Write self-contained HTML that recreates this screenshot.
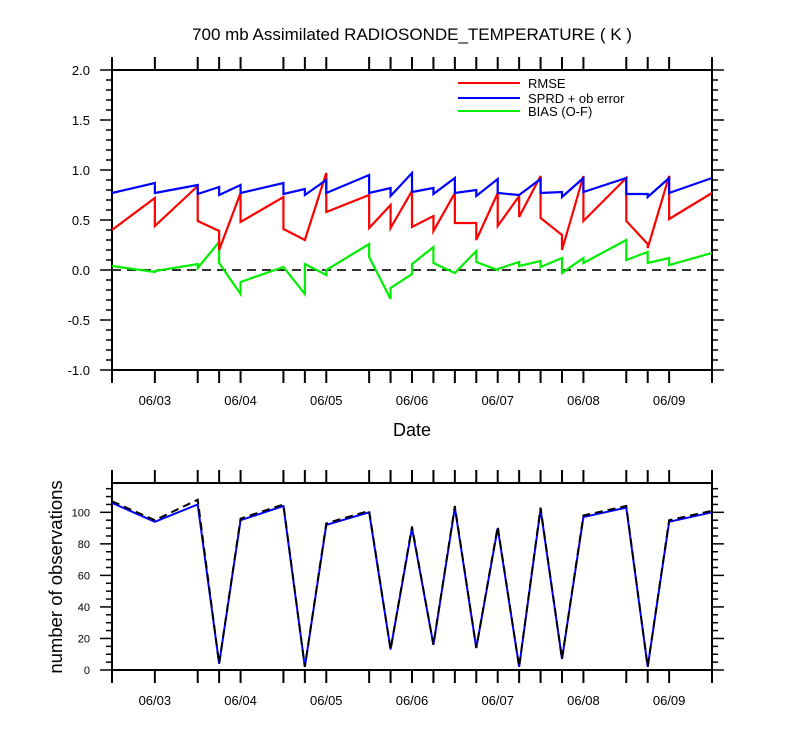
<!DOCTYPE html>
<html><head><meta charset="utf-8"><style>
body{margin:0;background:#fff}
svg{display:block;font-family:"Liberation Sans",sans-serif}
</style></head><body>
<svg id="c" width="800" height="750" viewBox="0 0 800 750"></svg>
<script>
const hours=[0,12,24,30,36,48,54,60,72,78,84,90,96,102,108,114,120,126,132,144,150,156,168];
const dateLabels=["06/03","06/04","06/05","06/06","06/07","06/08","06/09"];
const dateHours=[12,36,60,84,108,132,156];
const rmseArrive=[null,0.72,0.84,0.39,0.77,0.73,0.30,0.97,0.75,0.65,0.79,0.54,0.77,0.47,0.77,0.74,0.94,0.35,0.94,0.92,0.26,0.94,0.77];
const rmseLeave=[0.40,0.44,0.49,0.20,0.48,0.41,0.30,0.58,0.42,0.42,0.43,0.39,0.47,0.30,0.44,0.53,0.52,0.20,0.49,0.49,0.22,0.51,null];
const sprdArrive=[null,0.87,0.85,0.83,0.85,0.87,0.81,0.90,0.95,0.82,0.97,0.82,0.92,0.80,0.91,0.75,0.91,0.78,0.92,0.92,0.76,0.92,0.92];
const sprdLeave=[0.77,0.77,0.76,0.75,0.77,0.76,0.75,0.77,0.77,0.74,0.78,0.76,0.77,0.74,0.77,0.75,0.77,0.73,0.78,0.76,0.73,0.77,null];
const biasArrive=[null,-0.02,0.06,0.28,-0.24,0.03,-0.24,-0.05,0.26,-0.29,-0.04,0.23,-0.03,0.19,0.00,0.08,0.09,0.12,0.12,0.30,0.18,0.12,0.17];
const biasLeave=[0.04,-0.01,0.02,0.07,-0.12,0.03,0.06,0.00,0.13,-0.18,0.06,0.07,-0.03,0.08,0.01,0.04,0.03,-0.03,0.07,0.10,0.07,0.05,null];
const obsAssim=[106,94,105,4,95,104,2,92,100,13,90,16,103,14,90,2,102,7,97,103,2,94,100];
const obsTotal=[107,95,108,4,96,105,2,93,101,13,91,16,104,14,91,2,103,7,98,104,2,95,101];
const topTicks=[-1.0,-0.5,0.0,0.5,1.0,1.5,2.0];
const botTicks=[0,20,40,60,80,100];

const NS="http://www.w3.org/2000/svg";
const svg=document.getElementById('c');
function mk(tag,attrs,parent){const e=document.createElementNS(NS,tag);for(const k in attrs)e.setAttribute(k,attrs[k]);(parent||svg).appendChild(e);return e;}
const X0=112,X1=712;
const xs=h=>X0+h*(X1-X0)/168;
const T0=70,T1=370,yt=v=>T1-(v+1)*(T1-T0)/3;
const B0=483,B1=670,BMAX=118.6,yb=v=>B1-v*(B1-B0)/BMAX;

let t=mk('text',{x:412,y:40,'text-anchor':'middle','font-size':17});t.textContent="700 mb Assimilated RADIOSONDE_TEMPERATURE ( K )";


function frame(y0,y1,name){
  const r=mk('rect',{x:X0,y:y0,width:X1-X0,height:y1-y0,fill:'none',stroke:'#000','stroke-width':2});
  
  hours.forEach(h=>{const x=xs(h);
    mk('line',{x1:x,x2:x,y1:y0,y2:y0-13,stroke:'#000','stroke-width':2});
    mk('line',{x1:x,x2:x,y1:y1,y2:y1+13,stroke:'#000','stroke-width':2});});
  dateLabels.forEach((d,i)=>{const l=mk('text',{x:xs(dateHours[i]),y:y1+35,'text-anchor':'middle','font-size':13});l.textContent=d;
    });
}
frame(T0,T1,'top-plot-frame');
frame(B0,B1,'bottom-plot-frame');

for(let v=-1;v<=2.0001;v+=0.1){const y=yt(v);const maj=Math.abs(v*2-Math.round(v*2))<1e-6;const L=maj?12:6;
  mk('line',{x1:X0,x2:X0-L,y1:y,y2:y,stroke:'#000','stroke-width':1.5});
  mk('line',{x1:X1,x2:X1+L,y1:y,y2:y,stroke:'#000','stroke-width':1.5});}
topTicks.forEach(v=>{const l=mk('text',{x:90,y:yt(v)+5,'text-anchor':'end','font-size':13});l.textContent=v.toFixed(1);
  });
for(let v=0;v<=115;v+=5){const y=yb(v);const L=v%20==0?12:6;
  mk('line',{x1:X0,x2:X0-L,y1:y,y2:y,stroke:'#000','stroke-width':1.5});
  mk('line',{x1:X1,x2:X1+L,y1:y,y2:y,stroke:'#000','stroke-width':1.5});}
botTicks.forEach(v=>{const l=mk('text',{x:90,y:yb(v)+4,'text-anchor':'end','font-size':11});l.textContent=v;
  });

let d=mk('text',{x:412,y:436,'text-anchor':'middle','font-size':18});d.textContent="Date";

let yl=mk('text',{x:62,y:577,'text-anchor':'middle','font-size':18.5,transform:'rotate(-90 62 577)'});yl.textContent="number of observations";


const z=mk('line',{x1:X0,x2:X1,y1:yt(0),y2:yt(0),stroke:'#333','stroke-width':2,'stroke-dasharray':'9,6'});


function saw(arr,lea,color,name){
  const pts=[];hours.forEach((h,i)=>{const x=xs(h);
    if(arr[i]!==null)pts.push(x+','+yt(arr[i]));
    if(lea[i]!==null)pts.push(x+','+yt(lea[i]));});
  const p=mk('polyline',{points:pts.join(' '),fill:'none',stroke:color,'stroke-width':2.2});
  
}
saw(biasArrive,biasLeave,'#00ee00','bias-line');
saw(rmseArrive,rmseLeave,'#ff0000','rmse-line');
saw(sprdArrive,sprdLeave,'#0000ff','sprd-line');

function obsLine(arr,color,dash,name){
  const p=mk('polyline',{points:hours.map((h,i)=>xs(h)+','+yb(arr[i])).join(' '),fill:'none',stroke:color,'stroke-width':2,'stroke-dasharray':dash});
  
}
obsLine(obsAssim,'#0000ff','none','obs-assimilated-line');
obsLine(obsTotal,'#000','8,5','obs-total-line');

const leg=[["RMSE","#ff0000",83],["SPRD + ob error","#0000ff",98],["BIAS (O-F)","#00ee00",111]];
leg.forEach(l=>{const g=mk('g',{});
  mk('line',{x1:458,x2:520,y1:l[2],y2:l[2],stroke:l[1],'stroke-width':2},g);
  const tx=mk('text',{x:528,y:l[2]+5,'font-size':13},g);tx.textContent=l[0];});
</script>
</body></html>
